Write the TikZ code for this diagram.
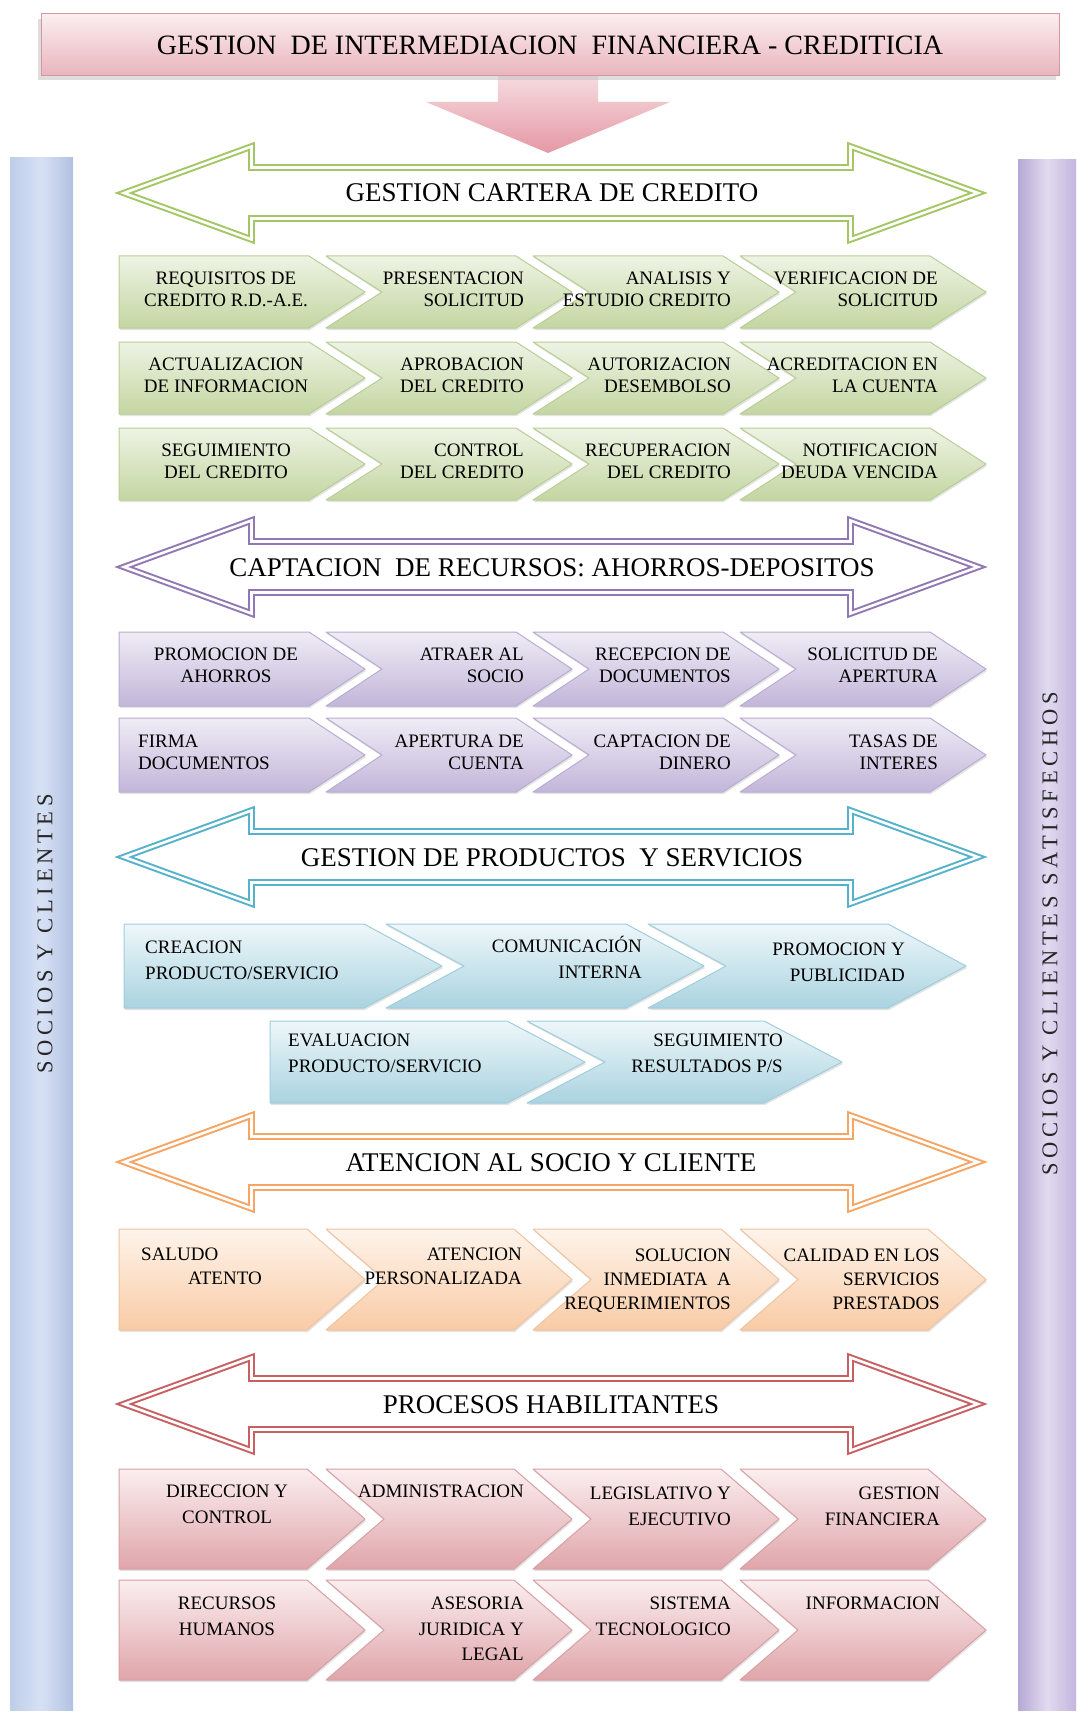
\documentclass[tikz,border=0pt]{standalone}
\usepackage{fontspec}
\setmainfont{Liberation Serif}
\newfontfamily\barfont[LetterSpace=21]{Liberation Serif}
\usetikzlibrary{shadows}

% palette: line colour of each band arrow, chevron shading and edge
\definecolor{grnLine}{RGB}{165,198,100}
\definecolor{grnTop}{RGB}{238,243,228}
\definecolor{grnBot}{RGB}{196,214,162}
\definecolor{grnEdge}{RGB}{185,205,150}
\definecolor{purLine}{RGB}{145,120,178}
\definecolor{purTop}{RGB}{240,236,246}
\definecolor{purBot}{RGB}{194,182,217}
\definecolor{purEdge}{RGB}{185,172,210}
\definecolor{bluLine}{RGB}{85,178,202}
\definecolor{bluTop}{RGB}{238,247,250}
\definecolor{bluBot}{RGB}{170,211,224}
\definecolor{bluEdge}{RGB}{160,205,220}
\definecolor{orgLine}{RGB}{245,165,100}
\definecolor{orgTop}{RGB}{254,244,235}
\definecolor{orgBot}{RGB}{249,203,165}
\definecolor{orgEdge}{RGB}{240,195,160}
\definecolor{redLine}{RGB}{200,95,98}
\definecolor{redTop}{RGB}{251,238,239}
\definecolor{redBot}{RGB}{223,165,170}
\definecolor{redEdge}{RGB}{215,160,165}
\definecolor{ttlTop}{RGB}{252,238,240}
\definecolor{ttlBot}{RGB}{232,180,188}
\definecolor{ttlEdge}{RGB}{215,150,160}
\definecolor{dwnTop}{RGB}{248,224,228}
\definecolor{dwnBot}{RGB}{228,152,165}
\definecolor{lbEdgeA}{RGB}{190,205,232}
\definecolor{lbMid}{RGB}{215,225,245}
\definecolor{lbEdgeB}{RGB}{178,192,225}
\definecolor{rbEdgeA}{RGB}{182,168,212}
\definecolor{rbMid}{RGB}{225,218,240}
\definecolor{rbEdgeB}{RGB}{195,182,222}

\tikzset{
  lab/.style={inner sep=0pt, text=black},
  labR/.style={lab, anchor=north east, align=right},
  labC/.style={lab, anchor=north, align=center},
  labL/.style={lab, anchor=north west, align=left},
  tight/.style={font=\fontsize{19}{22}\selectfont},
  loose/.style={font=\fontsize{19}{25.5}\selectfont},
  mid/.style={font=\fontsize{19}{24}\selectfont},
  bandlabel/.style={inner sep=0pt, anchor=base, font=\fontsize{27}{30}\selectfont},
  band/.style={draw=#1, double=white, double distance=2.6pt, line width=2pt, line join=miter},
  bartext/.style={inner sep=0pt, text=black!85, font=\barfont\fontsize{22.5}{24}\selectfont},
  chevshadow/.style={drop shadow={shadow xshift=1pt, shadow yshift=-2pt, opacity=0.22}},
  titlebox/.style={draw=ttlEdge, line width=1pt, top color=ttlTop, bottom color=ttlBot,
    minimum width=1018pt, minimum height=62pt, inner sep=0pt,
    font=\fontsize{28}{30}\selectfont},
}

% chevron with a flat left side: palette, x, top, width, height, point depth
\newcommand{\chevfirst}[6]{%
  \shadedraw[chevshadow, top color=#1Top, bottom color=#1Bot, draw=#1Edge, line width=1pt, line join=round]
    (#2,#3) -- ++({#4-#6},0) -- ++(#6,{#5/2}) -- ++({-#6},{#5/2}) -- ++({#6-#4},0) -- cycle;}
% chevron with a notched left side
\newcommand{\chevnext}[6]{%
  \shadedraw[chevshadow, top color=#1Top, bottom color=#1Bot, draw=#1Edge, line width=1pt, line join=round]
    (#2,#3) -- ++({#4-#6},0) -- ++(#6,{#5/2}) -- ++({-#6},{#5/2}) -- ++({#6-#4},0)
    -- ++(#6,{-#5/2}) -- cycle;}
% a row: palette, first x, pitch, top, width, height, depth, count
\newcommand{\chevrow}[8]{%
  \chevfirst{#1}{#2}{#4}{#5}{#6}{#7}
  \foreach \k in {2,...,#8}{%
    \pgfmathsetmacro\xx{#2+(\k-1)*#3}
    \chevnext{#1}{\xx}{#4}{#5}{#6}{#7}}}
% double-headed outlined band arrow: colour, centre y
\newcommand{\bandarrow}[2]{%
  \draw[band=#1] (124,#2) -- (251.5,{#2-46.5}) -- (251.5,{#2-25.5}) -- (850.5,{#2-25.5})
    -- (850.5,{#2-46.5}) -- (978,#2) -- (850.5,{#2+46.5}) -- (850.5,{#2+25.5})
    -- (251.5,{#2+25.5}) -- (251.5,{#2+46.5}) -- cycle;}

\begin{document}
\begin{tikzpicture}[x=1pt,y=-1pt]
\useasboundingbox (0,0) rectangle (1081,1712);
\fill[white] (0,0) rectangle (1081,1712);

% side bars
\shade[left color=lbEdgeA, right color=lbEdgeB, middle color=lbMid] (10,158) rectangle (73,1710);
\shade[left color=rbEdgeA, right color=rbEdgeB, middle color=rbMid] (1018,160) rectangle (1076,1710);
\node[bartext, rotate=90] (socios) at (45,934) {SOCIOS Y CLIENTES};
\node[bartext, rotate=90] (satisf) at (1050,934) {SOCIOS Y CLIENTES SATISFECHOS};

% heading and the arrow below it
\shade[top color=dwnTop, bottom color=dwnBot] (498,70) -- (598,70) -- (598,102) -- (670,102)
  -- (548,153) -- (426,102) -- (498,102) -- cycle;
\fill[black!25, opacity=0.5] (38,19) rectangle (1056,80);
\node[titlebox] (title) at (550,45) {GESTION\ \ DE INTERMEDIACION\ \ FINANCIERA - CREDITICIA};

% ---------------- credit portfolio
\bandarrow{grnLine}{193}
\node[bandlabel] (tg) at (552,202) {GESTION CARTERA DE CREDITO};
\chevrow{grn}{119}{207}{256}{246}{72}{56}{4}
\chevrow{grn}{119}{207}{342}{246}{72}{56}{4}
\chevrow{grn}{119}{207}{428}{246}{72}{56}{4}
\begin{scope}[tight]
\node[labC] (g11) at (226,272) {REQUISITOS DE\\CREDITO R.D.-A.E.};
\node[labR] (g12) at (524,272) {PRESENTACION\\SOLICITUD};
\node[labR] (g13) at (731,272) {ANALISIS Y\\ESTUDIO CREDITO};
\node[labR] (g14) at (938,272) {VERIFICACION DE\\SOLICITUD};
\node[labC] (g21) at (226,358) {ACTUALIZACION\\DE INFORMACION};
\node[labR] (g22) at (524,358) {APROBACION\\DEL CREDITO};
\node[labR] (g23) at (731,358) {AUTORIZACION\\DESEMBOLSO};
\node[labR] (g24) at (938,358) {ACREDITACION EN\\LA CUENTA};
\node[labC] (g31) at (226,444) {SEGUIMIENTO\\DEL CREDITO};
\node[labR] (g32) at (524,444) {CONTROL\\DEL CREDITO};
\node[labR] (g33) at (731,444) {RECUPERACION\\DEL CREDITO};
\node[labR] (g34) at (938,444) {NOTIFICACION\\DEUDA VENCIDA};
\end{scope}

% ---------------- savings and deposits
\bandarrow{purLine}{567}
\node[bandlabel] (tp) at (552,576) {CAPTACION\ \ DE RECURSOS: AHORROS-DEPOSITOS};
\chevrow{pur}{119}{207}{632}{246}{74}{56}{4}
\chevrow{pur}{119}{207}{718}{246}{74}{56}{4}
\begin{scope}[tight]
\node[labC] (p11) at (226,648) {PROMOCION DE\\AHORROS};
\node[labR] (p12) at (524,648) {ATRAER AL\\SOCIO};
\node[labR] (p13) at (731,648) {RECEPCION DE\\DOCUMENTOS};
\node[labR] (p14) at (938,648) {SOLICITUD DE\\APERTURA};
\node[labL] (p21) at (138,735) {FIRMA\\DOCUMENTOS};
\node[labR] (p22) at (524,735) {APERTURA DE\\CUENTA};
\node[labR] (p23) at (731,735) {CAPTACION DE\\DINERO};
\node[labR] (p24) at (938,735) {TASAS DE\\INTERES};
\end{scope}

% ---------------- products and services
\bandarrow{bluLine}{857}
\node[bandlabel] (tb) at (552,866) {GESTION DE PRODUCTOS\ \ Y SERVICIOS};
\chevrow{blu}{124}{262}{924}{318}{84}{78}{3}
\chevrow{blu}{270}{257}{1021}{315}{82}{78}{2}
\begin{scope}[loose]
\node[labL] (b11) at (145,941) {CREACION\\PRODUCTO/SERVICIO};
\node[labR] (b12) at (642,936) {COMUNICACIÓN\\INTERNA};
\node[labR] (b13) at (905,943) {PROMOCION Y\\PUBLICIDAD};
\node[labL] (b21) at (288,1034) {EVALUACION\\PRODUCTO/SERVICIO};
\node[labR] (b22) at (783,1034) {SEGUIMIENTO\\RESULTADOS P/S};
\end{scope}

% ---------------- member and client service
\bandarrow{orgLine}{1162}
\node[bandlabel] (to) at (551,1171) {ATENCION AL SOCIO Y CLIENTE};
\chevrow{org}{119}{207}{1229}{246}{101}{58}{4}
\begin{scope}[mid]
\node[labL] (o11) at (141,1248) {SALUDO\\\hspace*{47pt}ATENTO};
\node[labR] (o12) at (522,1248) {ATENCION\\PERSONALIZADA};
\node[labR] (o13) at (731,1249) {SOLUCION\\INMEDIATA\ \ A\\REQUERIMIENTOS};
\node[labR] (o14) at (940,1249) {CALIDAD EN LOS\\SERVICIOS\\PRESTADOS};
\end{scope}

% ---------------- enabling processes
\bandarrow{redLine}{1404}
\node[bandlabel] (tr) at (551,1413) {PROCESOS HABILITANTES};
\chevrow{red}{119}{207}{1469}{246}{100}{58}{4}
\chevrow{red}{119}{207}{1580}{246}{100}{58}{4}
\begin{scope}[loose]
\node[labC] (r11) at (227,1485) {DIRECCION Y\\CONTROL};
\node[labR] (r12) at (524,1485) {ADMINISTRACION};
\node[labR] (r13) at (731,1487) {LEGISLATIVO Y\\EJECUTIVO};
\node[labR] (r14) at (940,1487) {GESTION\\FINANCIERA};
\node[labC] (r21) at (227,1597) {RECURSOS\\HUMANOS};
\node[labR] (r22) at (524,1597) {ASESORIA\\JURIDICA Y\\LEGAL};
\node[labR] (r23) at (731,1597) {SISTEMA\\TECNOLOGICO};
\node[labR] (r24) at (940,1597) {INFORMACION};
\end{scope}
\end{tikzpicture}
\end{document}
